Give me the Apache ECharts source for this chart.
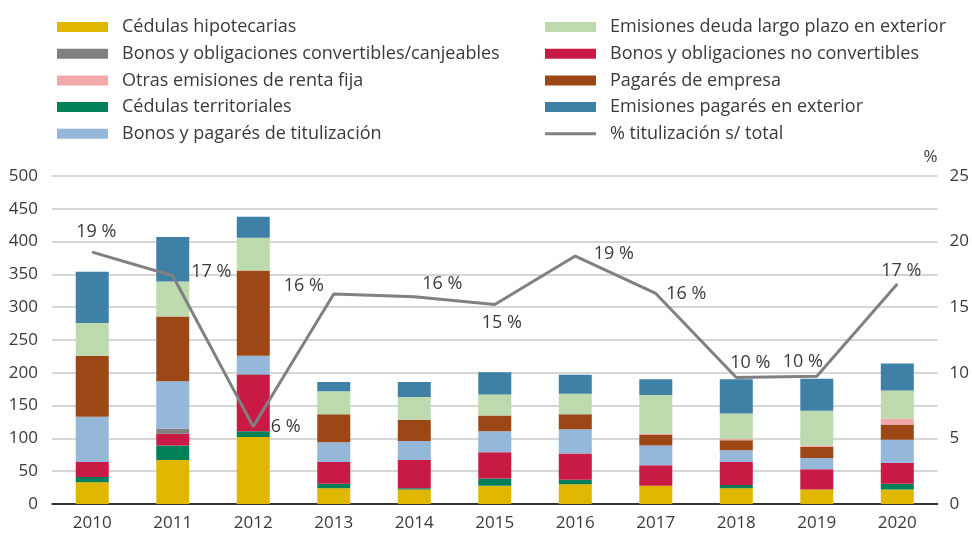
<!DOCTYPE html>
<html>
<head>
<meta charset="utf-8">
<title>Emisiones</title>
<script src="https://cdn.jsdelivr.net/npm/echarts@6/dist/echarts.min.js"></script>
<style>
html, body { margin: 0; padding: 0; background: #fff; }
#chart { width: 972px; height: 556px; }
</style>
</head>
<body>
<div id="chart"></div>
<script>
var years = ['2010', '2011', '2012', '2013', '2014', '2015', '2016', '2017', '2018', '2019', '2020'];

var cedulasHipotecarias = [33, 67, 102, 24, 22, 28, 30, 28, 24, 22, 22];
var cedulasTerritoriales = [8, 22, 9, 7, 2, 11, 7, 0, 5, 0, 9];
var bonosNoConvertibles = [23, 18, 86, 33, 43, 40, 40, 31, 35, 31, 32];
var bonosConvertibles = [0, 8, 1, 0, 0, 0, 0, 0, 0, 0, 0];
var bonosTitulizacion = [69, 72, 28, 30, 29, 32, 37, 30, 18, 17, 35];
var pagaresEmpresa = [93, 99, 130, 43, 32, 24, 23, 17, 15, 17, 23];
var otrasRentaFija = [0, 0, 0, 0, 0, 0, 0, 1, 2, 2, 9];
var deudaLargoExterior = [50, 53, 50, 35, 35, 32, 31, 59, 39, 53, 43];
var pagaresExterior = [78, 68, 32, 14, 23, 34, 29, 24, 52, 49, 41];

var pctTitulizacion = [19.2, 17.4, 5.9, 16.0, 15.8, 15.2, 18.9, 16.05, 9.64, 9.74, 16.76];
var pctLabels = ['19 %', '17 %', '6 %', '16 %', '16 %', '15 %', '19 %', '16 %', '10 %', '10 %', '17 %'];

// where each % label sits around its point
var labelPlace = [
  ['top', [4, -6]], ['right', [13, -4]], ['right', [12, 0]], ['top', [-30, 6]],
  ['top', [28, 2]], ['bottom', [7, 4]], ['right', [13, -2]], ['right', [5, 0]],
  ['top', [14, 0]], ['top', [-14, 0]], ['top', [4, 1]]
];

var txt = '#3a3a3a';
var font = 'Open Sans';

function bar(name, data, color) {
  return {
    name: name, type: 'bar', stack: 'total', data: data,
    barWidth: 33, itemStyle: { color: color }
  };
}

var lineData = pctTitulizacion.map(function (v, i) {
  return {
    value: v,
    label: { position: labelPlace[i][0], offset: labelPlace[i][1], formatter: pctLabels[i] }
  };
});

var legendText = { color: txt, fontFamily: font, fontSize: 18, lineHeight: 18, padding: [0, 0, 0, 9] };

function legendBox(left, names) {
  return {
    orient: 'vertical', left: left, top: 18, padding: 0,
    itemWidth: 51, itemHeight: 10, itemGap: 8.7, icon: 'rect',
    textStyle: legendText,
    data: names
  };
}

var chart = echarts.init(document.getElementById('chart'));
chart.setOption({
  animation: false,
  textStyle: { fontFamily: font },
  grid: { left: 52, right: 34, top: 176, bottom: 52 },
  legend: [
    legendBox(57, ['Cédulas hipotecarias', 'Bonos y obligaciones convertibles/canjeables',
      'Otras emisiones de renta fija', 'Cédulas territoriales', 'Bonos y pagarés de titulización']),
    legendBox(545, ['Emisiones deuda largo plazo en exterior', 'Bonos y obligaciones no convertibles',
      'Pagarés de empresa', 'Emisiones pagarés en exterior',
      { name: '% titulización s/ total', icon: 'path://M0,0 L51,0 L51,3 L0,3 Z' }])
  ],
  xAxis: {
    type: 'category', data: years,
    axisTick: { show: false },
    axisLine: { lineStyle: { color: '#000', width: 1.5 } },
    axisLabel: { color: txt, fontSize: 17, margin: 11 }
  },
  yAxis: [{
    type: 'value', min: 0, max: 500, interval: 50,
    axisLabel: { color: txt, fontSize: 17, margin: 14 },
    splitLine: { lineStyle: { color: '#c8c8c8', width: 1.5 } }
  }, {
    type: 'value', min: 0, max: 25, interval: 5,
    name: '%', nameGap: 10,
    nameTextStyle: { color: txt, fontSize: 17, align: 'left', padding: [0, 0, 0, -14] },
    axisLabel: { color: txt, fontSize: 17, margin: 12 },
    splitLine: { show: false }
  }],
  series: [
    bar('Cédulas hipotecarias', cedulasHipotecarias, '#dfb700'),
    bar('Cédulas territoriales', cedulasTerritoriales, '#00805a'),
    bar('Bonos y obligaciones no convertibles', bonosNoConvertibles, '#c91a45'),
    bar('Bonos y obligaciones convertibles/canjeables', bonosConvertibles, '#808080'),
    bar('Bonos y pagarés de titulización', bonosTitulizacion, '#94b7da'),
    bar('Pagarés de empresa', pagaresEmpresa, '#9e4716'),
    bar('Otras emisiones de renta fija', otrasRentaFija, '#f0a8a8'),
    bar('Emisiones deuda largo plazo en exterior', deudaLargoExterior, '#bdd9ae'),
    bar('Emisiones pagarés en exterior', pagaresExterior, '#3f81a6'),
    {
      name: '% titulización s/ total', type: 'line', yAxisIndex: 1,
      data: lineData, symbol: 'circle', symbolSize: 1, showSymbol: true,
      lineStyle: { color: '#808080', width: 3 },
      itemStyle: { color: '#808080' },
      label: { show: true, color: txt, fontSize: 18 }
    }
  ]
});
</script>
</body>
</html>
